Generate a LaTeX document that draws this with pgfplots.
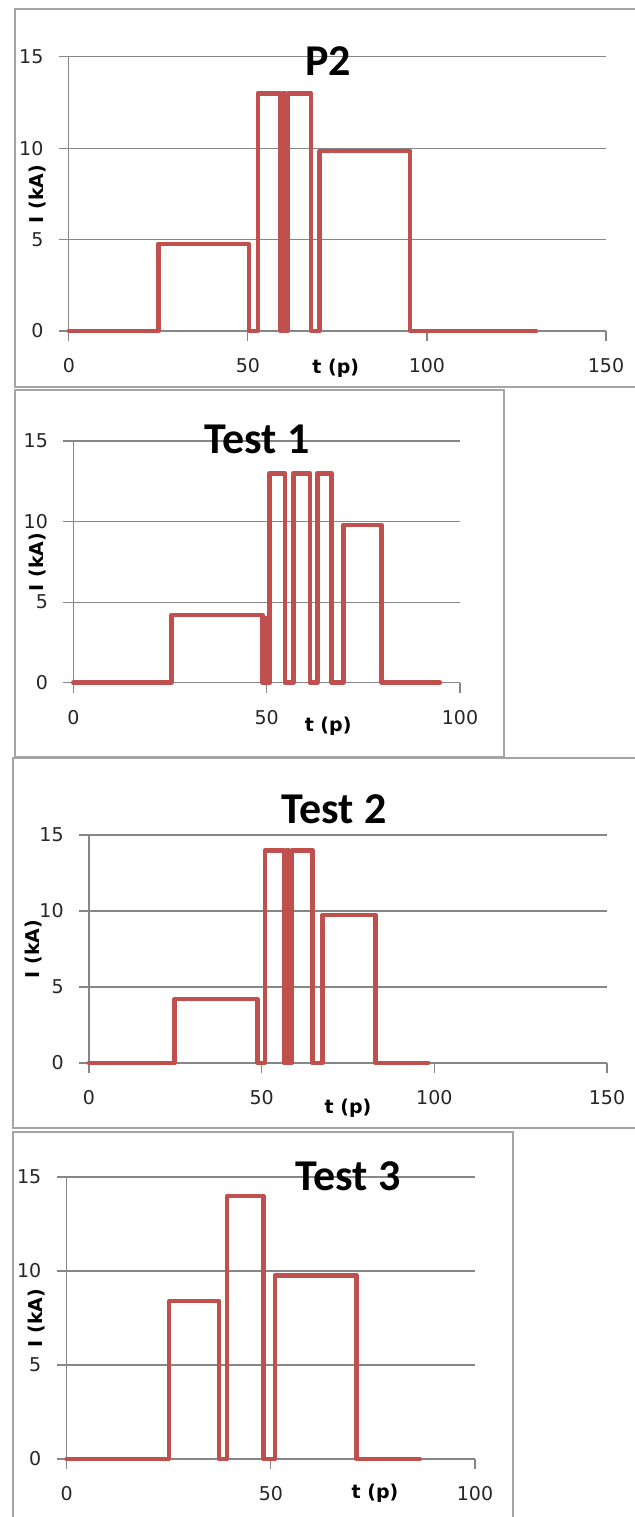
\documentclass[border=0pt]{standalone}
\usepackage{fontspec}
\setmainfont{DejaVu Sans}
\newfontfamily\titlefont{Carlito}
\usepackage{pgfplots}
\pgfplotsset{compat=1.18}
\definecolor{exred}{RGB}{192,80,77}
\definecolor{gridg}{RGB}{134,134,134}
\definecolor{boxg}{RGB}{165,165,165}
\pgfplotsset{
  panel/.style={
    scale only axis, clip=false,
    axis lines*=left,
    axis line style={gridg, line width=0.6pt},
    ymin=0, ymax=15, xmin=0,
    ytick={0,5,10,15},
    ymajorgrids, grid style={gridg, line width=0.6pt},
    tick style={gridg, line width=0.6pt},
    tick align=outside, major tick length=5pt,
    /pgf/number format/assume math mode=true,
    ticklabel style={font=\fontsize{9.5}{11}\selectfont, text=black!85},
    xticklabel style={anchor=center, inner sep=0pt, yshift=-12.5pt},
    yticklabel style={anchor=east, inner sep=0pt, xshift=-7.5pt},
    label style={font=\bfseries\fontsize{9.5}{11}\selectfont},
    xlabel={t (p)}, ylabel={I (kA)},
  },
  sig/.style={exred, line width=2.3pt, line join=round, line cap=round},
}
\begin{document}
\begin{tikzpicture}
\path[use as bounding box] (0,0) rectangle (317.5pt,-758.5pt);
\clip (0,0) rectangle (317.5pt,-758.5pt);
% Panel 1
\draw[boxg, line width=1pt, fill=white] (7.3pt,-4.5pt) rectangle (330pt,-193.5pt);
\begin{axis}[panel, anchor=south west, at={(34.4pt,-165.5pt)},
  width=268.6pt, height=137.15pt, xmax=150, xtick={0,50,100,150},
  xlabel style={at={(axis description cs:0.497,-0.135)}, anchor=center},
  ylabel style={at={(axis description cs:-0.0573,0.5)}, anchor=center}]
\addplot[sig] coordinates {(0,0) (25,0) (25,4.75) (50.3,4.75) (50.3,0) (52.8,0) (52.8,13) (59.1,13) (59.1,0) (59.8,0) (59.8,13) (60.4,13) (60.4,0) (61.2,0) (61.2,13) (67.6,13) (67.6,0) (70,0) (70,9.85) (95.3,9.85) (95.3,0) (130.5,0)};
\end{axis}
\node[anchor=base, font=\titlefont\bfseries\fontsize{22}{26}\selectfont] at (164pt,-37.5pt) {P2};
% Panel 2
\draw[boxg, line width=1pt, fill=white] (7.3pt,-195pt) rectangle (252pt,-378.5pt);
\begin{axis}[panel, anchor=south west, at={(36.65pt,-341.35pt)},
  width=193.35pt, height=120.85pt, xmax=100, xtick={0,50,100},
  xlabel style={at={(axis description cs:0.659,-0.182)}, anchor=center},
  ylabel style={at={(axis description cs:-0.0913,0.5)}, anchor=center}]
\addplot[sig] coordinates {(0,0) (25.4,0) (25.4,4.2) (49,4.2) (49,0) (49.6,0) (49.6,4.0) (50,4.0) (50,0) (50.8,0) (50.8,13) (54.7,13) (54.7,0) (56.9,0) (56.9,13) (61.2,13) (61.2,0) (63.1,0) (63.1,13) (66.8,13) (66.8,0) (69.8,0) (69.8,9.8) (79.7,9.8) (79.7,0) (94.8,0)};
\end{axis}
\node[anchor=base, font=\titlefont\bfseries\fontsize{22}{26}\selectfont] at (128.5pt,-226.5pt) {Test 1};
% Panel 3
\draw[boxg, line width=1pt, fill=white] (6.5pt,-379pt) rectangle (330pt,-564pt);
\begin{axis}[panel, anchor=south west, at={(44.5pt,-531.5pt)},
  width=259pt, height=114pt, xmax=150, xtick={0,50,100,150},
  xlabel style={at={(axis description cs:0.5,-0.197)}, anchor=center},
  ylabel style={at={(axis description cs:-0.1062,0.5)}, anchor=center}]
\addplot[sig] coordinates {(0,0) (24.8,0) (24.8,4.2) (48.8,4.2) (48.8,0) (51,0) (51,14) (56.5,14) (56.5,0) (57.2,0) (57.2,14) (57.8,14) (57.8,0) (58.8,0) (58.8,14) (64.8,14) (64.8,0) (67.7,0) (67.7,9.75) (83,9.75) (83,0) (98.2,0)};
\end{axis}
\node[anchor=base, font=\titlefont\bfseries\fontsize{22}{26}\selectfont] at (167pt,-411.5pt) {Test 2};
% Panel 4
\draw[boxg, line width=1pt, fill=white] (6.7pt,-566pt) rectangle (256.5pt,-770pt);
\begin{axis}[panel, anchor=south west, at={(33.35pt,-729.5pt)},
  width=204.15pt, height=141pt, xmax=100, xtick={0,50,100},
  xlabel style={at={(axis description cs:0.755,-0.1206)}, anchor=center},
  ylabel style={at={(axis description cs:-0.0727,0.5)}, anchor=center}]
\addplot[sig] coordinates {(0,0) (25.1,0) (25.1,8.4) (37.3,8.4) (37.3,0) (39.3,0) (39.3,14) (48.2,14) (48.2,0) (51,0) (51,9.75) (71,9.75) (71,0) (86.5,0)};
\end{axis}
\node[anchor=base, font=\titlefont\bfseries\fontsize{22}{26}\selectfont] at (174pt,-595pt) {Test 3};
\end{tikzpicture}
\end{document}
